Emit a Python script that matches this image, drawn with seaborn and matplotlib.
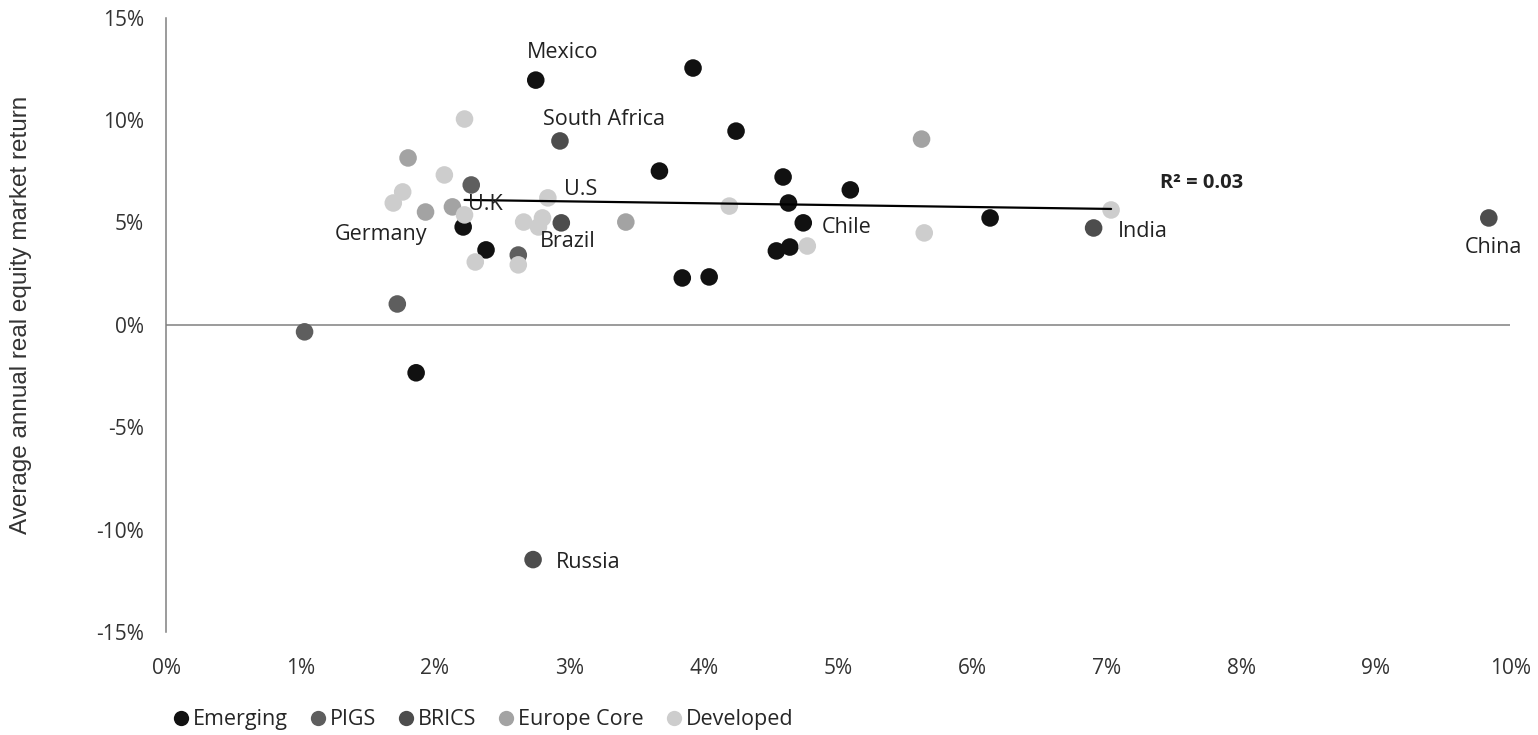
import numpy as np
import pandas as pd
import matplotlib
matplotlib.use("Agg")
import matplotlib.pyplot as plt
import seaborn as sns
from matplotlib.ticker import FuncFormatter

# GDP growth (x, %) vs average annual real equity return (y, %)
emerging_x = [2.75, 3.92, 4.24, 3.67, 4.59, 5.09, 4.63, 4.74, 4.54, 4.64, 3.84, 4.04, 6.13, 2.21, 2.38, 1.86]
emerging_y = [11.95, 12.54, 9.46, 7.51, 7.22, 6.59, 5.95, 4.98, 3.61, 3.80, 2.29, 2.34, 5.22, 4.78, 3.66, -2.34]

pigs_x = [1.03, 1.72, 2.62, 2.27]
pigs_y = [-0.34, 1.02, 3.41, 6.83]

brics_x = [2.93, 2.94, 6.90, 9.84, 2.73]
brics_y = [8.98, 4.98, 4.73, 5.22, -11.46]

core_x = [2.13, 1.93, 1.80, 3.42, 5.62]
core_y = [5.76, 5.51, 8.15, 5.02, 9.07]

developed_x = [2.22, 2.07, 1.76, 1.69, 2.22, 2.84, 2.66, 2.80, 2.77, 2.62, 2.30, 4.19, 4.77, 5.64, 7.03]
developed_y = [10.05, 7.32, 6.49, 5.95, 5.37, 6.20, 5.02, 5.22, 4.78, 2.93, 3.07, 5.80, 3.85, 4.49, 5.61]

groups = ["Emerging", "PIGS", "BRICS", "Europe Core", "Developed"]
colors = ["#111111", "#5e5e5e", "#4d4d4d", "#a3a3a3", "#cdcdcd"]

# labelled countries: (name, x, y, dx px, dy px)
labels = [
    ("Mexico", 2.75, 11.95, 27, 28),
    ("South Africa", 2.93, 8.98, 44, 21),
    ("U.K", 2.13, 5.76, 33, 2),
    ("U.S", 2.84, 6.20, 33, 8),
    ("Germany", 1.93, 5.51, -45, -22),
    ("Brazil", 2.94, 4.98, 6, -19),
    ("Chile", 4.74, 4.98, 43, -5),
    ("India", 6.90, 4.73, 49, -4),
    ("China", 9.84, 5.22, 5, -30),
    ("Russia", 2.73, -11.46, 55, -3),
]

trend_x = [2.22, 7.03]
trend_y = [6.10, 5.66]
r2_text = "R² = 0.03"

frames = []
for g, xs, ys in zip(groups,
                     [emerging_x, pigs_x, brics_x, core_x, developed_x],
                     [emerging_y, pigs_y, brics_y, core_y, developed_y]):
    frames.append(pd.DataFrame({"gdp": xs, "ret": ys, "group": g}))
df = pd.concat(frames, ignore_index=True)

sns.set_style("white")
plt.rcParams["font.family"] = ["Open Sans", "DejaVu Sans"]

fig = plt.figure(figsize=(15.38, 7.35), dpi=100)
ax = fig.add_axes([0.108, 0.140, 0.874, 0.836])

sns.scatterplot(data=df, x="gdp", y="ret", hue="group", hue_order=groups,
                palette=dict(zip(groups, colors)), s=160, edgecolor="none",
                legend=False, ax=ax, zorder=3)

ax.plot(trend_x, trend_y, color="black", lw=1.6, zorder=4)
ax.axhline(0, color="#808080", lw=1.1, zorder=1)

for name, x, y, dx, dy in labels:
    ax.annotate(name, (x, y), xytext=(dx, dy), textcoords="offset pixels",
                ha="center", va="center", fontsize=15.5, color="#222222", zorder=5)

ax.text(7.70, 6.93, r2_text, ha="center", va="center", fontsize=14.5,
        fontweight="bold", color="#222222")

ax.set_xlim(0, 10)
ax.set_ylim(-15, 15)
ax.set_xticks(np.arange(0, 11, 1))
ax.set_yticks(np.arange(-15, 16, 5))
ax.xaxis.set_major_formatter(FuncFormatter(lambda v, p: f"{v:.0f}%"))
ax.yaxis.set_major_formatter(FuncFormatter(lambda v, p: f"{v:.0f}%"))
ax.tick_params(axis="x", length=0, pad=19, labelsize=15, labelcolor="#333333")
ax.tick_params(axis="y", length=0, pad=16, labelsize=15, labelcolor="#333333")

for side in ["top", "right", "bottom"]:
    ax.spines[side].set_visible(False)
ax.spines["left"].set_color("#808080")
ax.spines["left"].set_linewidth(1.1)

ax.set_xlabel("")
ax.set_ylabel("Average annual real equity market return", fontsize=17.5,
              family="Liberation Sans", color="#333333")
ax.yaxis.set_label_coords(-0.0996, 0.516)

handles = [plt.Line2D([], [], marker="o", linestyle="none", markersize=11,
                      markerfacecolor=c, markeredgecolor="none") for c in colors]
fig.legend(handles, groups, loc="lower left", bbox_to_anchor=(0.098, -0.02),
           ncol=5, frameon=False, fontsize=15.5, handletextpad=0.05,
           columnspacing=0.9, handlelength=1.0)

fig.savefig("out.png", dpi=100)
